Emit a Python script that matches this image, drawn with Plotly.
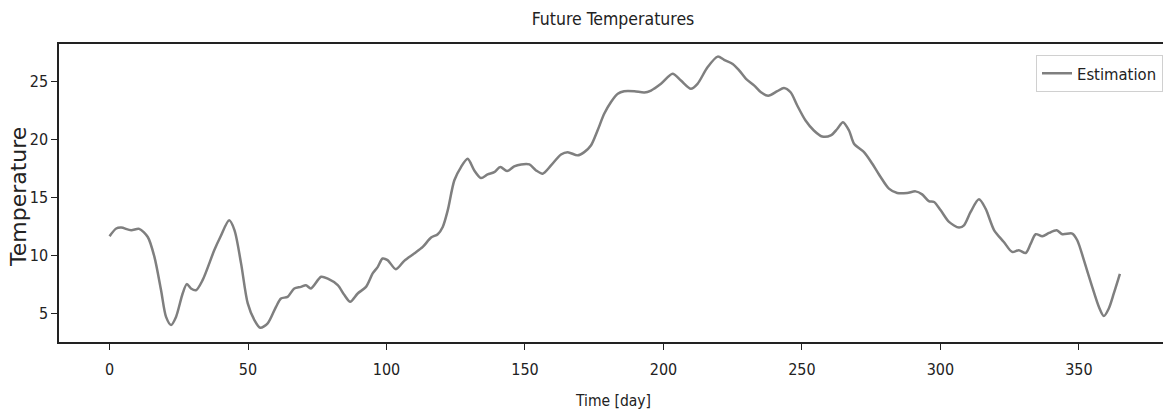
import plotly.graph_objects as go

days = [0, 2.4, 4.2, 7.8, 10.7, 13.8, 16.2, 18.6, 20.4, 22.2, 24, 26.4, 27.9, 29.4, 31.2,
        33.6, 37.8, 40, 43.2, 45.1, 47.5, 49.9, 52.3, 54.4, 57.1, 60.1, 61.9, 64.3, 66.7,
        69.1, 70.9, 72.7, 76.4, 78.8, 82.4, 84.8, 86.9, 89.6, 92.6, 95.0, 96.8, 98.6, 100.4,
        103.4, 106.4, 110, 113.1, 116.1, 118.5, 120.3, 122.1, 124.5, 126.9, 129.3, 131.7,
        134.1, 136.5, 138.9, 141.1, 143.5, 146.1, 148.6, 151.6, 154.0, 156.4, 159.4, 163,
        165.4, 169, 171.4, 173.8, 176.2, 178.6, 181, 183.5, 185.8, 189.5, 193.1, 195.5,
        199.1, 203.3, 206.3, 209.9, 212.3, 215.9, 219.6, 221.9, 225, 227.4, 229.8, 232.8,
        235.2, 237.8, 241.1, 243.5, 245.9, 248.3, 251.3, 254.3, 257.3, 260.4, 262.8, 264.8,
        267, 268.8, 272.4, 275.4, 278.4, 281.4, 284.4, 288, 291, 293.4, 295.8, 297.7, 300.1,
        303.1, 306.7, 308.5, 310.9, 313.9, 316.3, 319.4, 322.9, 325.9, 328.3, 330.8, 332.6,
        334.4, 336.8, 339.2, 342, 344, 347.6, 349.4, 351.8, 354.8, 357.2, 359, 360.8, 362.6,
        364.8]
temps = [11.66, 12.33, 12.41, 12.18, 12.3, 11.6, 9.88, 7.0, 4.7, 4.0, 4.7, 6.72, 7.53, 7.15, 7.0,
         7.87, 10.45, 11.6, 13.04, 12.2, 9.3, 5.86, 4.42, 3.76, 4.14, 5.57, 6.29, 6.43, 7.15,
         7.29, 7.44, 7.15, 8.16, 8.0, 7.44, 6.58, 6.0, 6.72, 7.29, 8.45, 9.0, 9.74, 9.6,
         8.82, 9.54, 10.17, 10.74, 11.55, 11.84, 12.47, 13.9, 16.5, 17.64, 18.36, 17.35,
         16.69, 17.0, 17.2, 17.64, 17.29, 17.7, 17.87, 17.87, 17.35, 17.07, 17.78, 18.73,
         18.93, 18.65, 18.93, 19.5, 20.8, 22.24, 23.24, 23.97, 24.19, 24.19, 24.08, 24.25,
         24.83, 25.69, 25.11, 24.4, 24.83, 26.26, 27.18, 26.9, 26.55, 25.97, 25.26, 24.68,
         24.1, 23.8, 24.19, 24.48, 24.1, 22.96, 21.66, 20.8, 20.28, 20.37, 20.95, 21.52,
         20.8, 19.66, 18.93, 17.93, 16.78, 15.78, 15.4, 15.4, 15.54, 15.28, 14.7, 14.62, 13.9,
         12.9, 12.41, 12.61, 13.76, 14.85, 14.05, 12.18, 11.17, 10.31, 10.46, 10.22, 11.03,
         11.84, 11.66, 11.95, 12.18, 11.84, 11.9, 11.32, 9.6, 7.29, 5.57, 4.77, 5.43, 6.72,
         8.41]

x_ticks = [0, 50, 100, 150, 200, 250, 300, 350]
y_ticks = [5, 10, 15, 20, 25]

FONT = "Liberation Sans Narrow, DejaVu Sans Condensed, DejaVu Sans, sans-serif"

W, H = 1171, 416
ML, MT, MB = 59, 44, 74
fig = go.Figure()
fig.add_trace(go.Scatter(
    x=days, y=temps, mode="lines", name="Estimation",
    line=dict(color="#7f7f7f", width=2.5, shape="spline", smoothing=0.8),
))

fig.update_layout(
    width=W, height=H,
    margin=dict(l=ML, r=0, t=MT, b=MB, autoexpand=False),
    paper_bgcolor="white", plot_bgcolor="white",
    font=dict(family=FONT, size=16, color="#222"),
    title=dict(text="Future Temperatures", xref="container", x=613 / W, xanchor="center",
               yref="container", y=1 - 19 / H, yanchor="middle",
               font=dict(family=FONT, size=17.5, color="#222")),
    showlegend=True,
    legend=dict(x=1 - 8 / (W - ML), xanchor="right", y=0.963, yanchor="top",
                bordercolor="#d0d0d0", borderwidth=1, bgcolor="white",
                font=dict(family=FONT, size=16.5, color="#222")),
    annotations=[
        dict(text="Time [day]", xref="paper", yref="paper", x=(613 - ML) / (W - ML), y=0,
             xanchor="center", yanchor="middle", yshift=-(401 - (H - MB)), showarrow=False,
             font=dict(family=FONT, size=15.5, color="#222")),
        dict(text="Temperature", xref="paper", yref="paper", x=0, y=0.5, textangle=-90,
             xanchor="center", yanchor="middle", xshift=-(ML - 18), yshift=-4, showarrow=False,
             font=dict(family="DejaVu Sans", size=22, color="#222")),
    ],
)
fig.update_xaxes(
    range=[-18.25, 383.25], tickvals=x_ticks, ticks="outside", ticklen=6, tickcolor="#222",
    showline=True, linecolor="#222", linewidth=1.5, mirror=True, showgrid=False, zeroline=False,
    automargin=False, tickfont=dict(size=16), ticklabelstandoff=6,
)
fig.update_yaxes(
    range=[2.53, 28.27], tickvals=y_ticks, ticks="outside", ticklen=6, tickcolor="#222",
    showline=True, linecolor="#222", linewidth=1.5, mirror=False, showgrid=False, zeroline=False,
    automargin=False, tickfont=dict(size=16),
)

fig.write_html("out.html", config={"displayModeBar": False},
               post_script="document.body.style.margin='0';document.body.style.overflow='hidden';")
